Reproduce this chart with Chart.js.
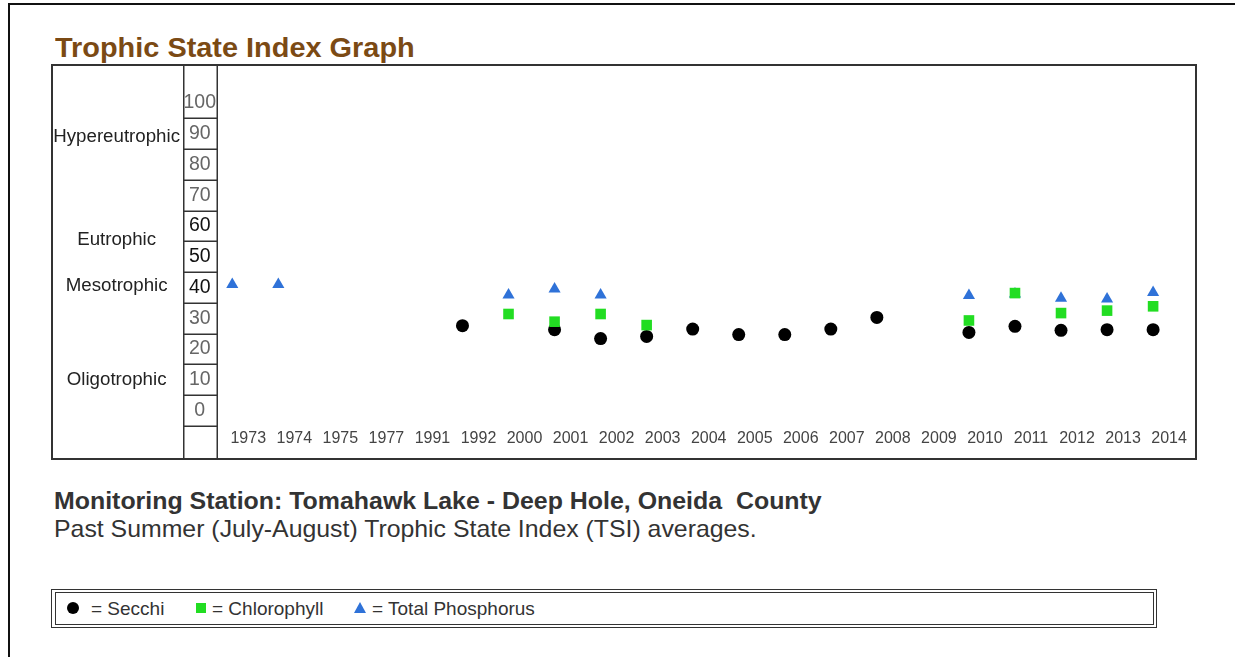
<!DOCTYPE html>
<html>
<head>
<meta charset="utf-8">
<title>Trophic State Index Graph</title>
<script src="https://cdn.jsdelivr.net/npm/chart.js@4.4.1/dist/chart.umd.min.js"></script>
<style>
  html, body { margin: 0; padding: 0; background: #fff; }
  body { width: 1235px; height: 657px; position: relative; overflow: hidden; font-family: "Liberation Sans", Arial, sans-serif; }
  #frame { position: absolute; left: 8px; top: 3px; width: 1300px; height: 700px; border-top: 2px solid #111; border-left: 2px solid #111; }
  #title { position: absolute; left: 55px; top: 33px; margin: 0; font-size: 28.5px; line-height: 1; font-weight: bold; color: #7b4a14; transform: scaleX(1.014); transform-origin: left; }
  #chartBox { position: absolute; left: 51px; top: 64px; width: 1142px; height: 392px; border: 2px solid #333; }
  #chartBox canvas { display: block; }
  #station { position: absolute; left: 54px; top: 489px; font-size: 24px; line-height: 1; font-weight: bold; color: #333; white-space: pre; transform: scaleX(1.038); transform-origin: left; }
  #caption { position: absolute; left: 54px; top: 517px; font-size: 24px; line-height: 1; color: #333; transform: scaleX(1.035); transform-origin: left; }
  #legendBox { position: absolute; left: 51px; top: 589px; width: 1106px; height: 39px; box-sizing: border-box; border: 1.5px solid #333; }
  #legendInner { position: absolute; left: 2.5px; top: 2px; right: 2.5px; bottom: 2px; border: 1.5px solid #333; }
  .ltext { position: absolute; top: 599px; font-size: 19px; line-height: 1; color: #333; white-space: pre; }
  .dot { position: absolute; left: 67px; top: 602px; width: 12px; height: 12px; border-radius: 50%; background: #000; }
  .sq { position: absolute; left: 196px; top: 603px; width: 10px; height: 10px; background: #22dd22; }
  .tri { position: absolute; left: 354px; top: 602px; width: 0; height: 0; border-left: 6px solid transparent; border-right: 6px solid transparent; border-bottom: 11px solid #2f72d8; }
</style>
</head>
<body>
<div id="frame"></div>
<h1 id="title">Trophic State Index Graph</h1>
<div id="chartBox"><canvas id="chart" width="1142" height="392"></canvas></div>
<div id="station">Monitoring Station: Tomahawk Lake - Deep Hole, Oneida  County</div>
<div id="caption">Past Summer (July-August) Trophic State Index (TSI) averages.</div>
<div id="legendBox"><div id="legendInner"></div></div>
<span class="dot"></span><span class="ltext" style="left:91px">= Secchi</span>
<span class="sq"></span><span class="ltext" style="left:212px">= Chlorophyll</span>
<span class="tri"></span><span class="ltext" style="left:372px">= Total Phosphorus</span>

<script>
const years = ["1973", "1974", "1975", "1977", "1991", "1992", "2000", "2001", "2002", "2003", "2004",
  "2005", "2006", "2007", "2008", "2009", "2010", "2011", "2012", "2013", "2014"];

const secchi = [null, null, null, null, null, 27.6, null, 26.3, 23.4, 24.1, 26.5,
  24.7, 24.7, 26.5, 30.3, null, 25.4, 27.4, 26.1, 26.3, 26.3];

const chlorophyll = [null, null, null, null, null, null, 31.4, 28.9, 31.4, 27.8, null,
  null, null, null, null, null, 29.3, 38.2, 31.7, 32.5, 33.9];

const phosphorus = [41.0, 41.0, null, null, null, null, 37.6, 39.5, 37.6, null, null,
  null, null, null, null, null, 37.4, 37.9, 36.5, 36.3, 38.4];

const tsiTicks = [0, 10, 20, 30, 40, 50, 60, 70, 80, 90, 100];
const trophicNames = ["Hypereutrophic", "Eutrophic", "Mesotrophic", "Oligotrophic"];
const trophicLevels = [89, 55.5, 40.5, 10];

Chart.defaults.font.family = '"Liberation Sans", Arial, sans-serif';

function toPoints(values) {
  return values.map((v, i) => ({ x: i, y: v })).filter((p) => p.y !== null);
}

// no extra room around the plot for edge labels
function noPadding(s) {
  s.paddingTop = 0;
  s.paddingBottom = 0;
  s.paddingLeft = 0;
  s.paddingRight = 0;
}

// boxes around the TSI numbers, one cell per tick
const tickColumn = {
  id: "tickColumn",
  afterDraw(chart) {
    const ctx = chart.ctx;
    const ys = chart.scales.y;
    const left = ys.left + 0.75;
    const right = ys.right - 0.75;
    ctx.save();
    ctx.strokeStyle = "#333";
    ctx.lineWidth = 1.5;
    ctx.beginPath();
    ctx.moveTo(left, 0);
    ctx.lineTo(left, chart.height);
    ctx.moveTo(right, 0);
    ctx.lineTo(right, chart.height);
    tsiTicks.forEach((v) => {
      const y = Math.round(ys.getPixelForValue(v - 5)) + 0.25;
      ctx.moveTo(left, y);
      ctx.lineTo(right, y);
    });
    ctx.stroke();
    ctx.restore();
  },
};

new Chart(document.getElementById("chart"), {
  type: "scatter",
  data: {
    datasets: [
      {
        label: "Secchi",
        data: toPoints(secchi),
        pointStyle: "circle",
        pointRadius: 6.5,
        pointHoverRadius: 6.5,
        pointBorderWidth: 0,
        backgroundColor: "#000",
        borderColor: "#000",
        order: 3,
      },
      {
        label: "Chlorophyll",
        data: toPoints(chlorophyll),
        pointStyle: "rect",
        pointRadius: 7.5,
        pointHoverRadius: 7.5,
        pointBorderWidth: 0,
        backgroundColor: "#22dd22",
        borderColor: "#22dd22",
        order: 1,
      },
      {
        label: "Total Phosphorus",
        data: toPoints(phosphorus),
        pointStyle: "triangle",
        pointRadius: 7,
        pointHoverRadius: 7,
        pointBorderWidth: 0,
        backgroundColor: "#2f72d8",
        borderColor: "#2f72d8",
        order: 2,
      },
    ],
  },
  options: {
    responsive: false,
    animation: false,
    events: [],
    layout: { padding: 0, autoPadding: false },
    plugins: {
      legend: { display: false },
      tooltip: { enabled: false },
    },
    scales: {
      x: {
        type: "linear",
        min: -0.31,
        max: 20.91,
        grid: { display: false, drawTicks: false },
        border: { display: false },
        afterBuildTicks: (s) => {
          s.ticks = years.map((_, i) => ({ value: i }));
        },
        afterFit: (s) => {
          s.height = 32;
          noPadding(s);
        },
        ticks: {
          autoSkip: false,
          maxRotation: 0,
          labelOffset: 16,
          padding: 3,
          color: "#444",
          font: { size: 16 },
          callback: (v) => years[v],
        },
      },
      y: {
        type: "linear",
        position: "left",
        weight: 0,
        min: -5,
        max: 112,
        grid: { display: false, drawTicks: false },
        border: { display: false },
        afterBuildTicks: (s) => {
          s.ticks = tsiTicks.map((v) => ({ value: v }));
        },
        afterFit: (s) => {
          s.width = 35;
          noPadding(s);
        },
        ticks: {
          autoSkip: false,
          crossAlign: "center",
          padding: 2,
          font: { size: 19.5 },
          color: (c) => ([40, 50, 60].includes(c.tick.value) ? "#111" : "#666"),
          callback: (v) => v,
        },
      },
      trophic: {
        type: "linear",
        position: "left",
        weight: 1,
        min: -5,
        max: 112,
        grid: { display: false, drawTicks: false },
        border: { display: false },
        afterBuildTicks: (s) => {
          s.ticks = trophicLevels.map((v) => ({ value: v }));
        },
        afterFit: (s) => {
          s.width = 130;
          noPadding(s);
        },
        ticks: {
          autoSkip: false,
          crossAlign: "center",
          padding: 3,
          color: "#222",
          font: { size: 18.7 },
          callback: (v, i) => trophicNames[i],
        },
      },
    },
  },
  plugins: [tickColumn],
});
</script>
</body>
</html>
